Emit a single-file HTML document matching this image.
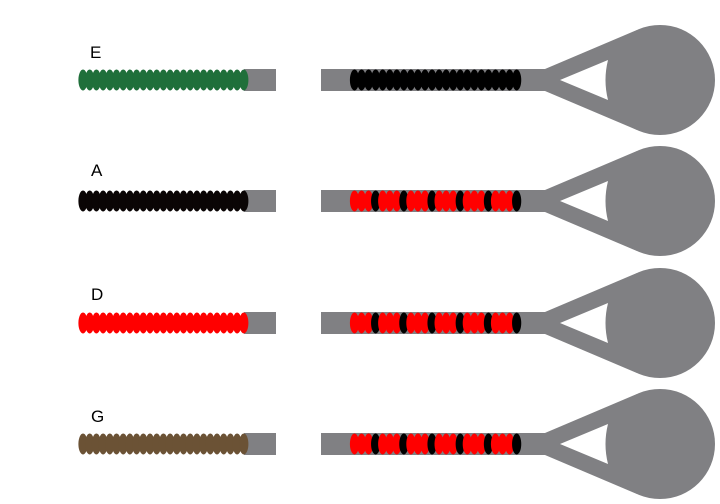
<!DOCTYPE html>
<html><head><meta charset="utf-8"><style>
html,body{margin:0;padding:0;background:#fff;width:720px;height:504px;overflow:hidden}
svg{display:block}
text{font-family:"Liberation Sans",sans-serif;font-size:17px;fill:#000}
</style></head><body>
<svg id="s" width="720" height="504" viewBox="0 0 720 504" xmlns="http://www.w3.org/2000/svg">
<text x="90" y="58">E</text>
<text x="91" y="176">A</text>
<text x="91" y="300">D</text>
<text x="91" y="422">G</text>
</svg>
<script>
var s=document.getElementById('s'),NS='http://www.w3.org/2000/svg';
function el(t,a){var e=document.createElementNS(NS,t);for(var k in a)e.setAttribute(k,a[k]);s.appendChild(e);return e;}
var G='#808083';
var rows=[{y:80,c:'#1f6f3a',r:'k'},{y:201,c:'#0a0505',r:'rb'},{y:323,c:'#ff0000',r:'rb'},{y:444,c:'#6b5235',r:'rb'}];
rows.forEach(function(r){
 var y=r.y;
 el('rect',{x:244,y:y-11,width:32,height:22,fill:G});
 for(var i=0;i<25;i++){el('ellipse',{cx:83+i*6.7,cy:y,rx:4.6,ry:10.5,fill:r.c});}
 el('rect',{x:321,y:y-11,width:230,height:22,fill:G});
 el('circle',{cx:660,cy:y,r:55,fill:G});
 el('polygon',{points:'545,'+(y-11)+' 637,'+(y-50)+' 650,'+y+' 637,'+(y+50)+' 545,'+(y+11),fill:G});
 el('path',{d:'M560 '+y+' L608 '+(y-20)+' Q603 '+y+' 608 '+(y+20)+' Z',fill:'#fff'});
 for(var j=0;j<24;j++){
  var col=r.r=='k'?'#000':((j%4==3)?'#000':'#ff0000');
  el('ellipse',{cx:354.5+j*7.05,cy:y,rx:4.6,ry:10.5,fill:col});
 }
});
</script>
</body></html>
